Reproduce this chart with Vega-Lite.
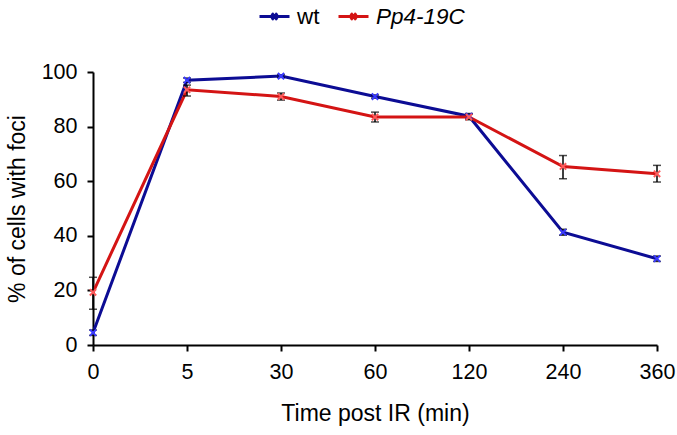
{
  "$schema": "https://vega.github.io/schema/vega-lite/v6.json",
  "autosize": {"type": "none"},
  "padding": {"left": 93, "top": 72, "right": 20, "bottom": 90},
  "width": 564,
  "height": 273,
  "background": "white",
  "config": {
    "view": {"stroke": null},
    "font": "Liberation Sans",
    "axis": {
      "grid": false,
      "domainColor": "black",
      "domainWidth": 2,
      "tickColor": "black",
      "tickWidth": 2,
      "tickSize": 6,
      "labelFont": "Liberation Sans",
      "labelFontSize": 21.5,
      "labelColor": "black",
      "titleFont": "Liberation Sans",
      "titleFontSize": 23,
      "titleFontWeight": "normal",
      "titleColor": "black"
    }
  },
  "data": {
    "values": [
      {"time": "0", "strain": "wt", "mean": 4.5, "lo": 3.5, "hi": 5.5},
      {"time": "5", "strain": "wt", "mean": 97, "lo": 96.2, "hi": 97.8},
      {"time": "30", "strain": "wt", "mean": 98.5, "lo": 98, "hi": 99},
      {"time": "60", "strain": "wt", "mean": 91, "lo": 90.4, "hi": 91.6},
      {"time": "120", "strain": "wt", "mean": 83.8, "lo": 82.8, "hi": 84.8},
      {"time": "240", "strain": "wt", "mean": 41.3, "lo": 40.2, "hi": 42.4},
      {"time": "360", "strain": "wt", "mean": 31.6, "lo": 30.6, "hi": 32.6},
      {"time": "0", "strain": "Pp4-19C", "mean": 19.3, "lo": 13.1, "hi": 24.8},
      {"time": "5", "strain": "Pp4-19C", "mean": 93.5, "lo": 91.2, "hi": 95.2},
      {"time": "30", "strain": "Pp4-19C", "mean": 91, "lo": 89.7, "hi": 92.3},
      {"time": "60", "strain": "Pp4-19C", "mean": 83.5, "lo": 81.7, "hi": 85.3},
      {"time": "120", "strain": "Pp4-19C", "mean": 83.5, "lo": 82.5, "hi": 84.5},
      {"time": "240", "strain": "Pp4-19C", "mean": 65.4, "lo": 60.9, "hi": 69.4},
      {"time": "360", "strain": "Pp4-19C", "mean": 62.7, "lo": 59.7, "hi": 65.8}
    ]
  },
  "encoding": {
    "x": {
      "field": "time",
      "type": "ordinal",
      "sort": ["0", "5", "30", "60", "120", "240", "360"],
      "scale": {"type": "point", "padding": 0},
      "axis": {"title": "Time post IR (min)", "labelAngle": 0, "labelPadding": 10, "titlePadding": 20}
    }
  },
  "layer": [
    {
      "mark": {"type": "line", "strokeWidth": 3},
      "encoding": {
        "y": {
          "field": "mean",
          "type": "quantitative",
          "scale": {"domain": [0, 100]},
          "axis": {"title": "% of cells with foci", "values": [0, 20, 40, 60, 80, 100], "labelPadding": 10, "titlePadding": 12}
        },
        "color": {
          "field": "strain",
          "type": "nominal",
          "scale": {"domain": ["wt", "Pp4-19C"], "range": ["#0c0c94", "#d41414"]},
          "legend": {
            "title": null,
            "orient": "none",
            "direction": "horizontal",
            "legendX": 165,
            "legendY": -72,
            "symbolType": "M-1,0L1,0M-0.18,-0.22L0.18,0.22M-0.18,0.22L0.18,-0.22",
            "symbolSize": 900,
            "symbolStrokeWidth": 3,
            "labelFontSize": 22.5,
            "labelFont": "Liberation Sans",
            "labelColor": "black",
            "labelOffset": 6,
            "columnPadding": 12,
            "encode": {
              "labels": {
                "update": {
                  "fontStyle": {"signal": "datum.value === 'Pp4-19C' ? 'italic' : 'normal'"}
                }
              }
            }
          }
        }
      }
    },
    {
      "mark": {"type": "rule", "color": "black", "strokeWidth": 1.5},
      "encoding": {
        "y": {"field": "lo", "type": "quantitative"},
        "y2": {"field": "hi"}
      }
    },
    {
      "mark": {"type": "tick", "orient": "horizontal", "color": "black", "size": 8, "thickness": 1.5},
      "encoding": {"y": {"field": "lo", "type": "quantitative"}}
    },
    {
      "mark": {"type": "tick", "orient": "horizontal", "color": "black", "size": 8, "thickness": 1.5},
      "encoding": {"y": {"field": "hi", "type": "quantitative"}}
    },
    {
      "mark": {"type": "point", "shape": "M-1,-1L1,1M-1,1L1,-1", "filled": false, "strokeWidth": 2, "size": 40, "opacity": 1},
      "encoding": {
        "y": {"field": "mean", "type": "quantitative"},
        "stroke": {
          "field": "strain",
          "type": "nominal",
          "scale": {"domain": ["wt", "Pp4-19C"], "range": ["#3a3aff", "#ff5a5a"]},
          "legend": null
        }
      }
    }
  ]
}
